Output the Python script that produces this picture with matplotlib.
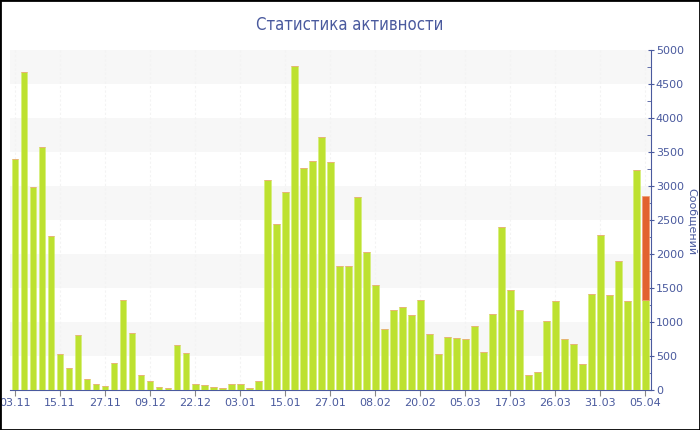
import matplotlib
matplotlib.use("Agg")
import matplotlib.pyplot as plt
from matplotlib.patches import Rectangle
from matplotlib.ticker import MultipleLocator

# messages per day (green) and the extra part of the last day (orange)
messages = [3390, 4670, 2990, 3580, 2270, 525, 320, 815, 157, 93,
            59, 392, 1320, 833, 221, 127, 44, 25, 667, 539,
            83, 69, 49, 34, 88, 83, 29, 137, 3093, 2446,
            2917, 4770, 3260, 3363, 3716, 3348, 1824, 1819, 2833, 2029,
            1544, 897, 1181, 1226, 1098, 1328, 819, 529, 779, 765,
            745, 946, 564, 1113, 2402, 1471, 1181, 221, 260, 1010,
            1309, 750, 672, 387, 1407, 2279, 1402, 1892, 1304, 3230,
            1324]
extra = [0] * 70 + [1524]

tick_pos = list(range(0, 71, 5))
tick_labels = ["03.11", "15.11", "27.11", "09.12", "22.12", "03.01", "15.01",
               "27.01", "08.02", "20.02", "05.03", "17.03", "26.03", "31.03",
               "05.04"]

blue = "#4a5a9e"
green = "#bde130"
orange = "#e2622f"

fig = plt.figure(figsize=(7, 4.3), dpi=100)
ax = fig.add_axes([10 / 700, 1 - 390 / 430, 641 / 700, 340 / 430])

x = list(range(len(messages)))
ax.bar(x, messages, width=0.75, color=green, edgecolor="#d6ef7a", linewidth=0.5, zorder=3)
ax.bar(x, extra, bottom=messages, width=0.75, color=orange, edgecolor="#ef9a70",
       linewidth=0.5, zorder=3)

# alternating bands
for lo in range(500, 5000, 1000):
    ax.axhspan(lo, lo + 500, color="#f7f7f7", zorder=0, lw=0)
for p in tick_pos:
    ax.axvline(p, color="#f3f3f3", lw=0.8, ls=(0, (2, 2)), zorder=1)

ax.set_xlim(-0.56, 70.63)
ax.set_ylim(0, 5000)

for s in ["left", "top"]:
    ax.spines[s].set_visible(False)
ax.spines["bottom"].set_color(blue)
ax.spines["right"].set_color(blue)

ax.yaxis.tick_right()
ax.yaxis.set_major_locator(MultipleLocator(500))
ax.yaxis.set_minor_locator(MultipleLocator(250))
ax.tick_params(axis="y", which="major", direction="inout", length=5, color=blue,
               labelcolor=blue, labelsize=8, pad=1)
ax.tick_params(axis="y", which="minor", direction="in", length=3, color=blue)

ax.set_xticks(tick_pos)
ax.set_xticklabels(tick_labels)
ax.tick_params(axis="x", direction="out", length=4, color="#888888",
               labelcolor=blue, labelsize=8, pad=2)

fig.text(0.5, 1 - 25 / 430, "Статистика активности", ha="center", va="center",
         fontsize=12, color=blue, fontstretch="condensed")
fig.text(692 / 700, 1 - 222 / 430, "Сообщений", rotation=270, ha="center",
         va="center", fontsize=8, color=blue)

fig.patches.append(Rectangle((0, 0), 1, 1, transform=fig.transFigure, fill=False,
                             edgecolor="black", linewidth=2))

fig.savefig("out.png", dpi=100)
